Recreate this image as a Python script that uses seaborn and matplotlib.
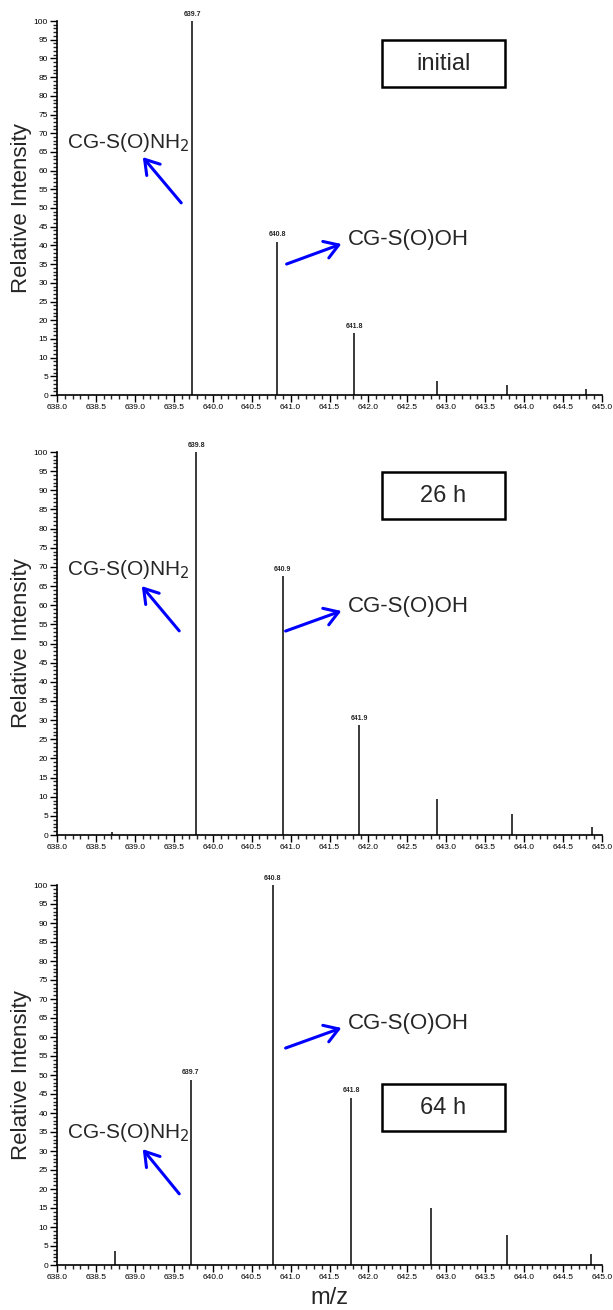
import matplotlib
matplotlib.use("Agg")
import matplotlib.pyplot as plt
import seaborn as sns
import numpy as np
from matplotlib.patches import Rectangle, FancyArrowPatch
from matplotlib.ticker import MultipleLocator, FormatStrFormatter

# ---- data ----
mz_initial = [639.74, 640.83, 641.82, 642.88, 643.78, 644.79]
int_initial = [100, 41, 16.5, 3.8, 2.6, 1.5]
lab_initial_mz = [639.74, 640.83, 641.82]
lab_initial = ["639.7", "640.8", "641.8"]

mz_26h = [638.70, 639.79, 640.90, 641.88, 642.88, 643.85, 644.87]
int_26h = [0.8, 100, 67.5, 28.7, 9.5, 5.6, 2.1]
lab_26h_mz = [639.79, 640.90, 641.88]
lab_26h = ["639.8", "640.9", "641.9"]

mz_64h = [638.75, 639.72, 640.77, 641.78, 642.80, 643.78, 644.86]
int_64h = [3.8, 48.7, 100, 44, 15, 7.8, 3.0]
lab_64h_mz = [639.72, 640.77, 641.78]
lab_64h = ["639.7", "640.8", "641.8"]

panel_titles = ["initial", "26 h", "64 h"]
x_min, x_max = 638.0, 645.0

sns.set_style("ticks")
plt.rcParams['font.family'] = ['Liberation Sans', 'DejaVu Sans']

W, H = 613, 1310
fig = plt.figure(figsize=(W / 100, H / 100), dpi=100)

def fx(px):
    return px / W

def fy(py):
    return 1 - py / H

# axes pixel boxes: left, top, right, bottom
boxes = [(57, 21, 602, 395), (57, 452, 602, 835), (57, 885, 602, 1265)]
datasets = [
    (mz_initial, int_initial, lab_initial_mz, lab_initial),
    (mz_26h, int_26h, lab_26h_mz, lab_26h),
    (mz_64h, int_64h, lab_64h_mz, lab_64h),
]

axes = []
for (l, t, r, b), (mz, inten, lmz, labs) in zip(boxes, datasets):
    ax = fig.add_axes([fx(l), fy(b), (r - l) / W, (b - t) / H])
    ax.vlines(mz, 0, inten, colors="#3a3a3a", linewidth=1.4)
    ax.set_xlim(x_min, x_max)
    ax.set_ylim(0, 100)
    ax.xaxis.set_major_locator(MultipleLocator(0.5))
    ax.xaxis.set_minor_locator(MultipleLocator(0.1))
    ax.yaxis.set_major_locator(MultipleLocator(5))
    ax.yaxis.set_minor_locator(MultipleLocator(1))
    ax.xaxis.set_major_formatter(FormatStrFormatter("%.1f"))
    ax.yaxis.set_major_formatter(FormatStrFormatter("%d"))
    ax.tick_params(axis="both", which="major", labelsize=6, length=5, width=1,
                   direction="out", pad=1.5, colors="black")
    ax.tick_params(axis="both", which="minor", length=3, width=1, direction="out")
    sns.despine(ax=ax)
    for s in ["left", "bottom"]:
        ax.spines[s].set_linewidth(1.2)
        ax.spines[s].set_color("black")
    ax.patch.set_alpha(0)
    m2i = dict(zip(mz, inten))
    for m, lab in zip(lmz, labs):
        ax.annotate(lab, (m, m2i[m]), xytext=(0, 2.5), textcoords="offset points",
                    ha="center", va="bottom", fontsize=5, fontweight="bold")
    ax.set_ylabel("Relative Intensity", fontsize=16, labelpad=1)
    axes.append(ax)

axes[2].set_xlabel("m/z", fontsize=17, labelpad=4)

# title boxes
box_tops = [40, 472, 1084]
for title, top in zip(panel_titles, box_tops):
    rect = Rectangle((fx(382), fy(top + 47)), 123 / W, 47 / H, transform=fig.transFigure,
                     fc="white", ec="black", lw=1.8, zorder=5)
    fig.patches.append(rect)
    fig.text(fx(443.5), fy(top + 23.5), title, ha="center", va="center", fontsize=17, zorder=6)

# annotations (text position, arrow tail, arrow head), pixel coords
nh2 = [((67, 143), (183, 205), (141, 155)),
       ((67, 570), (181, 633), (140, 584)),
       ((67, 1133), (181, 1196), (141, 1147))]
oh = [((348, 240), (284, 265), (344, 243)),
      ((348, 606), (283, 632), (344, 610)),
      ((348, 1024), (283, 1049), (344, 1027))]

arrow_style = "->,head_length=0.55,head_width=0.35"
for (tp, tail, head) in nh2:
    fig.text(fx(tp[0]), fy(tp[1]), r"CG-S(O)NH$_2$", ha="left", va="center", fontsize=15)
    fig.patches.append(FancyArrowPatch(
        (fx(tail[0]), fy(tail[1])), (fx(head[0]), fy(head[1])), transform=fig.transFigure,
        arrowstyle=arrow_style, mutation_scale=18, color="blue", lw=2.2))
for (tp, tail, head) in oh:
    fig.text(fx(tp[0]), fy(tp[1]), "CG-S(O)OH", ha="left", va="center", fontsize=16)
    fig.patches.append(FancyArrowPatch(
        (fx(tail[0]), fy(tail[1])), (fx(head[0]), fy(head[1])), transform=fig.transFigure,
        arrowstyle=arrow_style, mutation_scale=18, color="blue", lw=2.2))

fig.savefig("out.png", dpi=100)
